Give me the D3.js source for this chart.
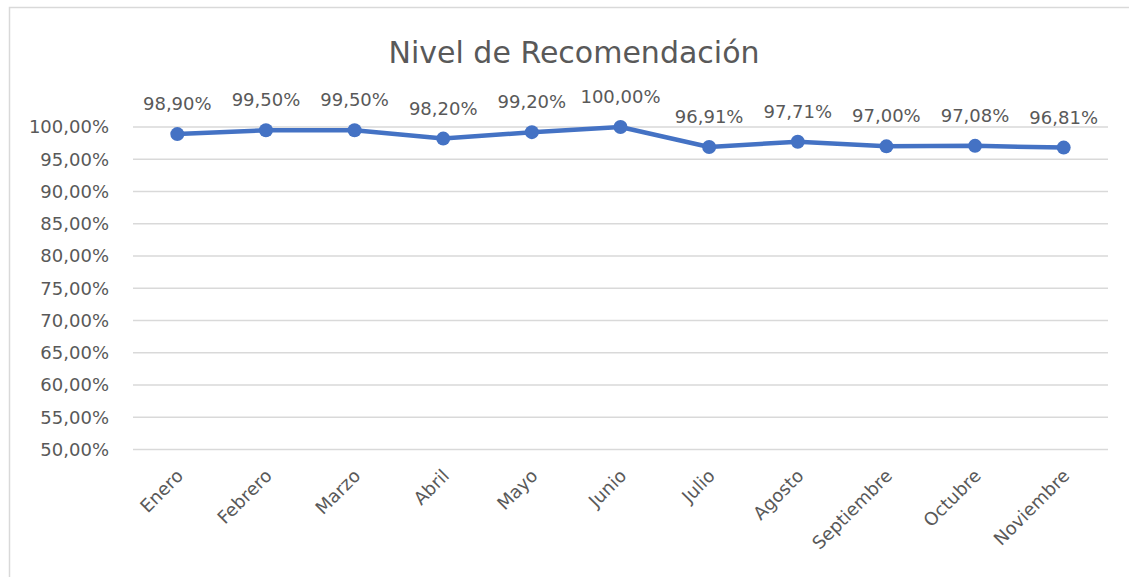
<!DOCTYPE html>
<html>
<head>
<meta charset="utf-8">
<script src="https://cdn.jsdelivr.net/npm/d3@7"></script>
<style>
  body { margin: 0; background: #fff; }
  text { font-family: "DejaVu Sans", sans-serif; fill: #595959; }
</style>
</head>
<body>
<script>
// données du graphique
const meses = ["Enero", "Febrero", "Marzo", "Abril", "Mayo", "Junio", "Julio",
  "Agosto", "Septiembre", "Octubre", "Noviembre"];
const valores = [98.90, 99.50, 99.50, 98.20, 99.20, 100.00, 96.91, 97.71, 97.00, 97.08, 96.81];
const ticksY = [50, 55, 60, 65, 70, 75, 80, 85, 90, 95, 100];

const fmt = v => d3.format(".2f")(v).replace(".", ",") + "%";

const svg = d3.select("body")
  .append("svg")
  .attr("width", 1129)
  .attr("height", 577);

// cadre
svg.append("rect")
  .attr("x", 9.5).attr("y", 7.5)
  .attr("width", 1140).attr("height", 600)
  .attr("fill", "#fff")
  .attr("stroke", "#d9d9d9")
  .attr("stroke-width", 1.5);

const x = d3.scaleBand().domain(meses).range([133, 1108]);
const y = d3.scaleLinear().domain([50, 100]).range([449.5, 127]);

// titre
svg.append("text")
  .attr("x", 574).attr("y", 63)
  .attr("text-anchor", "middle")
  .style("font-size", "30px")
  .text("Nivel de Recomendación");

// grille
svg.append("g")
  .selectAll("line")
  .data(ticksY)
  .join("line")
  .attr("x1", 133).attr("x2", 1108)
  .attr("y1", d => y(d)).attr("y2", d => y(d))
  .attr("stroke", "#d9d9d9")
  .attr("stroke-width", 1.5);

// étiquettes Y
svg.append("g")
  .selectAll("text")
  .data(ticksY)
  .join("text")
  .attr("x", 109)
  .attr("y", d => y(d))
  .attr("dy", "0.36em")
  .attr("text-anchor", "end")
  .style("font-size", "18px")
  .text(d => fmt(d));

// étiquettes X
svg.append("g")
  .selectAll("text")
  .data(meses)
  .join("text")
  .attr("transform", d => `translate(${x(d) + x.bandwidth() / 2 + 7},477) rotate(-45)`)
  .attr("text-anchor", "end")
  .style("font-size", "18px")
  .text(d => d);

const cx = (d, i) => x(meses[i]) + x.bandwidth() / 2;

// ligne
const ligne = d3.line()
  .x((d, i) => cx(d, i))
  .y(d => y(d));

svg.append("path")
  .datum(valores)
  .attr("d", ligne)
  .attr("fill", "none")
  .attr("stroke", "#4472c4")
  .attr("stroke-width", 4.5)
  .attr("stroke-linejoin", "round");

svg.append("g")
  .selectAll("circle")
  .data(valores)
  .join("circle")
  .attr("cx", cx)
  .attr("cy", d => y(d))
  .attr("r", 7)
  .attr("fill", "#4472c4");

// étiquettes de données
svg.append("g")
  .selectAll("text")
  .data(valores)
  .join("text")
  .attr("x", cx)
  .attr("y", d => y(d) - 24)
  .attr("text-anchor", "middle")
  .style("font-size", "18px")
  .text(d => fmt(d));
</script>
</body>
</html>
